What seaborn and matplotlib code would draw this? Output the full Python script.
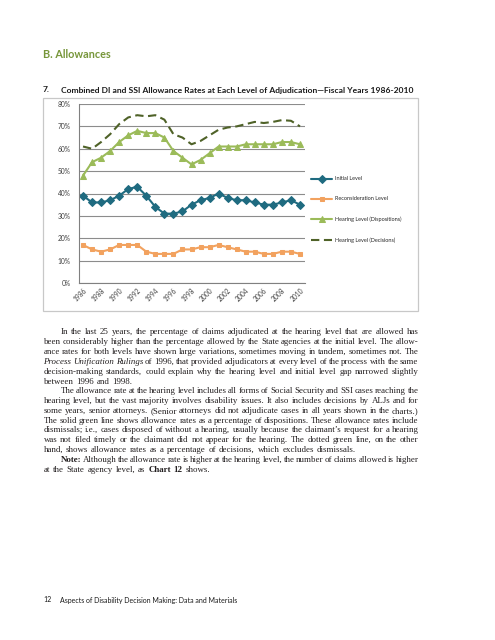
import matplotlib
matplotlib.use("Agg")
import matplotlib.pyplot as plt
import seaborn as sns
import pandas as pd
from matplotlib.patches import Rectangle

# ---------------- data ----------------
years = list(range(1986, 2011))
initial_level = [39, 36, 36, 37, 39, 42, 43, 39, 34, 31, 31, 32, 35, 37, 38, 40, 38, 37, 37, 36, 35, 35, 36, 37, 35]
reconsideration_level = [17, 15, 14, 15, 17, 17, 17, 14, 13, 13, 13, 15, 15, 16, 16, 17, 16, 15, 14, 14, 13, 13, 14, 14, 13]
hearing_dispositions = [48, 54, 56, 59, 63, 66, 68, 67, 67, 65, 59, 56, 53, 55, 58, 61, 61, 61, 62, 62, 62, 62, 63, 63, 62]
hearing_decisions = [61, 60, 63, 66.5, 71, 74, 75, 74.5, 75, 73, 66.5, 65, 62, 63.5, 66, 68.5, 69.5, 70, 71, 72, 71.5, 72, 72.8, 72.5, 70]
series_names = ["Initial Level", "Reconsideration Level", "Hearing Level (Dispositions)", "Hearing Level (Decisions)"]
y_ticks = [0, 10, 20, 30, 40, 50, 60, 70, 80]
x_ticks = list(range(1986, 2011, 2))

W, H = 495, 640
sns.set_theme(style="white")
plt.rcParams["font.family"] = ["Lato", "DejaVu Sans"]
fig = plt.figure(figsize=(W / 100, H / 100), dpi=100)

def fx(px): return px / W
def fy(py): return 1 - py / H

# chart frame
fig.patches.append(Rectangle((fx(43), fy(311)), fx(418) - fx(43), fy(98) - fy(311),
                             transform=fig.transFigure, fill=False, edgecolor="#c8c8c8", lw=0.9))

ax = fig.add_axes([fx(78.5), fy(283), fx(304.5) - fx(78.5), fy(104) - fy(283)])

df = pd.DataFrame({"year": years,
                   series_names[0]: initial_level,
                   series_names[1]: reconsideration_level,
                   series_names[2]: hearing_dispositions,
                   series_names[3]: hearing_decisions})

styles = {
    series_names[0]: dict(color="#1f6b80", marker="D", markersize=3.6, linestyle="-"),
    series_names[1]: dict(color="#f2a25f", marker="s", markersize=3.4, linestyle="-"),
    series_names[2]: dict(color="#9bbb59", marker="^", markersize=4.2, linestyle="-"),
    series_names[3]: dict(color="#4f6228", marker=None, markersize=0, linestyle=(0, (4, 2.2))),
}
for name in series_names:
    st = styles[name]
    sns.lineplot(data=df, x="year", y=name, ax=ax, color=st["color"], marker=st["marker"],
                 markersize=st["markersize"], markeredgecolor=st["color"], linestyle=st["linestyle"],
                 linewidth=1.5, label=name)

ax.set_xlim(1985.5, 2010.5)
ax.set_ylim(0, 80)
ax.set_yticks(y_ticks)
ax.set_yticklabels([f"{v}%" for v in y_ticks], fontsize=4.8, color="#404040")
ax.set_xticks(x_ticks)
ax.set_xticklabels([str(v) for v in x_ticks], fontsize=4.8, color="#404040", rotation=45,
                   ha="right", rotation_mode="anchor")
ax.set_xticks([y + 0.5 for y in range(1985, 2011)], minor=True)
ax.tick_params(axis="x", which="major", length=0, pad=3)
ax.tick_params(axis="x", which="minor", length=2.5, color="#808080", width=0.6, direction="out")
ax.tick_params(axis="y", length=2.5, color="#808080", width=0.6, direction="out", pad=3)
ax.set_xlabel("")
ax.set_ylabel("")
ax.yaxis.grid(True, color="#8c8c8c", linewidth=0.8)
ax.set_axisbelow(True)
for s in ["top", "right"]:
    ax.spines[s].set_visible(False)
for s in ["left", "bottom"]:
    ax.spines[s].set_color("#808080")
    ax.spines[s].set_linewidth(0.8)

leg = ax.legend(loc="center left", bbox_to_anchor=(fx(306), fy(209.5)), bbox_transform=fig.transFigure,
                frameon=False, fontsize=4.0, handlelength=3.8, labelspacing=2.7, handletextpad=0.45)
for t in leg.get_texts():
    t.set_color("#262626")

# ---------------- page texts ----------------
fig.text(fx(43), fy(55), "B. Allowances", fontsize=7.8, fontweight="bold", color="#77963a",
         family="Lato", va="center")
fig.text(fx(43), fy(90), "7.", fontsize=6.1, fontweight="bold", color="#1a1a1a", family="Lato", va="center")
fig.text(fx(61), fy(90), "Combined DI and SSI Allowance Rates at Each Level of Adjudication\u2014Fiscal Years 1986-2010",
         fontsize=6.1, fontweight="bold", color="#1a1a1a", family="Lato", va="center")
fig.text(fx(43), fy(600), "12", fontsize=5.0, color="#1a1a1a", family="Lato", va="center")
fig.text(fx(60), fy(600), "Aspects of Disability Decision Making: Data and Materials", fontsize=5.0,
         color="#1a1a1a", family="Lato", va="center")

lines = [
    ("In the last 25 years, the percentage of claims adjudicated at the hearing level that are allowed has", True, False),
    ("been considerably higher than the percentage allowed by the State agencies at the initial level. The allow-", False, False),
    ("ance rates for both levels have shown large variations, sometimes moving in tandem, sometimes not. The", False, False),
    ("_Process _Unification _Rulings of 1996, that provided adjudicators at every level of the process with the same", False, False),
    ("decision-making standards, could explain why the hearing level and initial level gap narrowed slightly", False, False),
    ("between 1996 and 1998.", False, True),
    ("The allowance rate at the hearing level includes all forms of Social Security and SSI cases reaching the", True, False),
    ("hearing level, but the vast majority involves disability issues. It also includes decisions by ALJs and for", False, False),
    ("some years, senior attorneys. (Senior attorneys did not adjudicate cases in all years shown in the charts.)", False, False),
    ("The solid green line shows allowance rates as a percentage of dispositions. These allowance rates include", False, False),
    ("dismissals; i.e., cases disposed of without a hearing, usually because the claimant\u2019s request for a hearing", False, False),
    ("was not filed timely or the claimant did not appear for the hearing. The dotted green line, on the other", False, False),
    ("hand, shows allowance rates as a percentage of decisions, which excludes dismissals.", False, True),
    ("^Note: Although the allowance rate is higher at the hearing level, the number of claims allowed is higher", True, False),
    ("at the State agency level, as ^Chart ^12 shows.", False, True),
]

fig.canvas.draw()
r = fig.canvas.get_renderer()
left, right, indent = 43.5, 418.5, 17
y0, step = 334.5, 9.8

def make_props(size, style):
    p = dict(fontsize=size, color="#231f20", family=["Liberation Serif", "DejaVu Serif"], va="baseline")
    if style == "i":
        p["style"] = "italic"
    elif style == "b":
        p["weight"] = "bold"
    return p

_cache = {}
def measure(s, p):
    key = (s, p["fontsize"], p.get("style"), p.get("weight"))
    if key not in _cache:
        t = fig.text(0, 0, s, **p)
        _cache[key] = t.get_window_extent(r).width
        t.remove()
    return _cache[key]

def parse(line):
    out = []
    for w in line.split(" "):
        if w.startswith("_"):
            out.append((w[1:], "i"))
        elif w.startswith("^"):
            out.append((w[1:], "b"))
        else:
            out.append((w, "n"))
    return out

def line_gap(words, size, ind):
    widths = [measure(w, make_props(size, s)) for w, s in words]
    avail = right - left - (indent if ind else 0)
    return (avail - sum(widths)) / max(len(words) - 1, 1)

# largest size at which every justified line keeps at least a narrow gap between words
size = 7.2
while size > 5:
    if all(line_gap(parse(l), size, ind) >= 1.3 for l, ind, last in lines if not last):
        break
    size -= 0.05

p_n = make_props(size, "n")
spw = measure("a b", p_n) - measure("ab", p_n)
for i, (line, ind, last) in enumerate(lines):
    # baseline a quarter pixel off the grid: avoids half-pixel rounding ties between words
    y = round(y0 + i * step) + 0.25
    words = parse(line)
    props = [make_props(size, s) for _, s in words]
    widths = [measure(w, p) for (w, _), p in zip(words, props)]
    x = left + (indent if ind else 0)
    gap = spw + 0.6 if (last or len(words) == 1) else line_gap(words, size, ind)
    for (w, _), p, wd in zip(words, props, widths):
        fig.text(fx(x), fy(y), w, **p)
        x += wd + gap

fig.savefig("out.png", dpi=100)
